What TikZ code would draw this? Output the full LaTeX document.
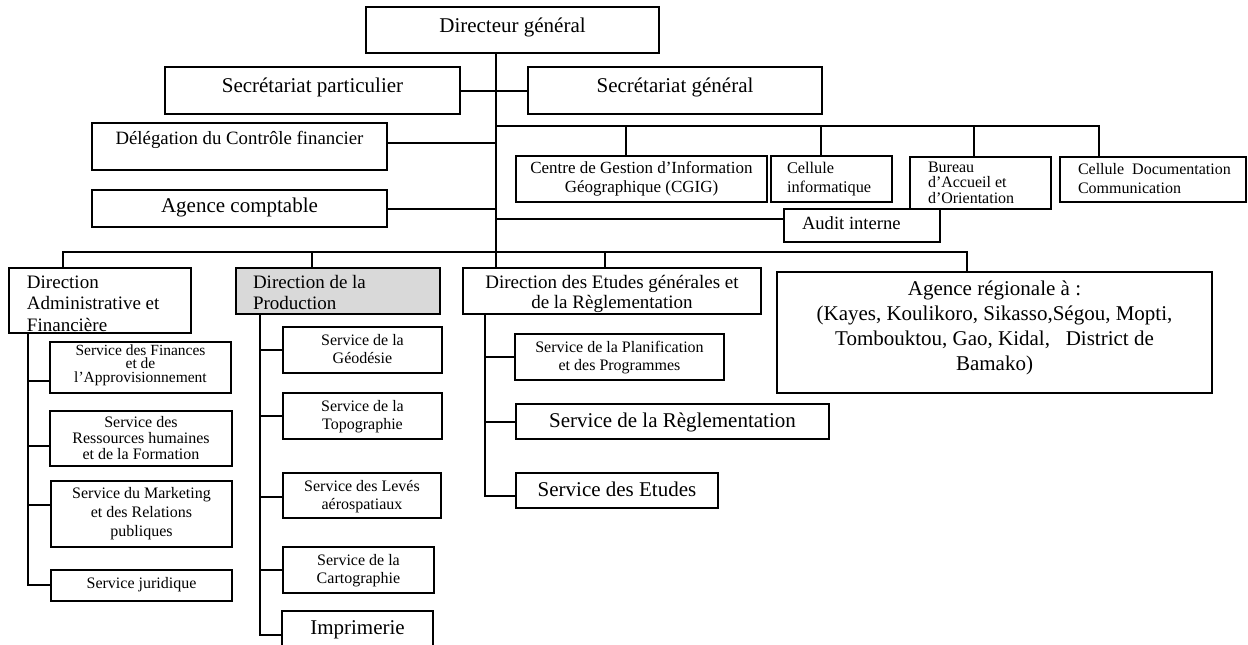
\documentclass[tikz,border=0pt]{standalone}
\usepackage{fontspec}
\setmainfont{Liberation Serif}
\newcommand\fs[2]{\fontsize{#1pt}{#2pt}\selectfont}
\newcommand\lind[1]{\raggedright\leftskip=#1pt\relax}
% name, opts, left, top, right, bottom, first baseline, format, text
\newcommand\ob[9]{\node[box,#2] (#1) at (#3,#4) {\parbox[c][\dimexpr#6pt-#4pt\relax][t]{\dimexpr#5pt-#3pt\relax}{\lineskiplimit=-100pt #8\rule{0pt}{\dimexpr#7pt-#4pt\relax}#9}};}
\begin{document}
\begin{tikzpicture}[x=1pt,y=-1pt,
  box/.style={draw,line width=2pt,inner sep=0pt,outer sep=0pt,anchor=north west,fill=white},
  conn/.style={line width=2pt}]
\useasboundingbox (0,0) rectangle (1248,645);
\fill[white] (0,0) rectangle (1248,645);
\clip (0,0) rectangle (1248,645);
% boxes
\ob{dg}{}{366}{7}{659}{53}{32}{\fs{21}{25}\centering}{Directeur général}
\ob{sp}{}{165}{67}{460}{114}{92}{\fs{21}{25}\centering}{Secrétariat particulier}
\ob{sg}{}{528}{67}{822}{114}{92}{\fs{21}{25}\centering}{Secrétariat général}
\ob{del}{}{92}{123}{387}{170}{144}{\fs{18.8}{22}\centering}{Délégation du Contrôle financier}
\ob{ac}{}{92}{190}{387}{227}{212}{\fs{21}{25}\centering}{Agence comptable}
\ob{cgig}{}{516}{156}{767}{202}{173}{\fs{17}{19}\centering}{Centre de Gestion d’Information\\Géographique (CGIG)}
\ob{cinf}{}{771}{156}{892}{202}{173}{\fs{16.3}{19}\lind{16}}{Cellule\\informatique}
\ob{bao}{}{910}{157}{1051}{209}{172}{\fs{16}{15.5}\lind{18}}{Bureau\\d’Accueil et\\d’Orientation}
\ob{cdoc}{}{1060}{157}{1246}{202}{174}{\fs{16}{19}\lind{18}}{Cellule\ \ Documentation\\Communication}
\ob{audit}{}{784}{209}{940}{242}{229}{\fs{18.6}{22}\lind{18}}{Audit interne}
\ob{daf}{}{9}{268}{191}{333}{288}{\fs{19}{21.5}\lind{18}}{Direction\\Administrative et\\Financière}
\ob{prod}{fill=black!15}{236}{268}{440}{314}{288}{\fs{19}{21}\lind{17}}{Direction de la\\Production}
\ob{degr}{}{463}{268}{761}{314}{288}{\fs{19}{20}\centering}{Direction des Etudes générales et\\de la Règlementation}
\ob{agr}{}{777}{272}{1212}{393}{295}{\fs{21}{25}\centering}{Agence régionale à :\\(Kayes, Koulikoro, Sikasso,Ségou, Mopti,\\Tombouktou, Gao, Kidal,\ \ \ District de\\Bamako)}
\ob{sfa}{}{50}{342}{231}{393}{355}{\fs{15.5}{13.8}\centering}{Service des Finances\\et de\\l’Approvisionnement}
\ob{srhf}{}{50}{411}{232}{466}{427}{\fs{16}{16}\centering}{Service des\\Ressources humaines\\et de la Formation}
\ob{smrp}{}{51}{481}{232}{547}{498}{\fs{16}{19}\centering}{Service du Marketing\\et des Relations\\publiques}
\ob{sj}{}{51}{570}{232}{601}{588}{\fs{16}{19}\centering}{Service juridique}
\ob{geo}{}{283}{327}{442}{373}{345}{\fs{16}{18.5}\centering}{Service de la\\Géodésie}
\ob{topo}{}{283}{393}{442}{439}{411}{\fs{16}{18.5}\centering}{Service de la\\Topographie}
\ob{lev}{}{283}{473}{441}{518}{491}{\fs{16}{18.5}\centering}{Service des Levés\\aérospatiaux}
\ob{carto}{}{283}{547}{434}{593}{565}{\fs{16}{18.5}\centering}{Service de la\\Cartographie}
\ob{impr}{}{282}{611}{433}{660}{634}{\fs{21}{25}\centering}{Imprimerie}
\ob{spp}{}{515}{334}{724}{380}{352}{\fs{16}{18}\centering}{Service de la Planification\\et des Programmes}
\ob{sr}{}{516}{404}{829}{439}{427}{\fs{21}{25}\centering}{Service de la Règlementation}
\ob{se}{}{516}{473}{718}{508}{496}{\fs{21}{25}\centering}{Service des Etudes}
% coordinates
\coordinate (m) at (496,0);
\coordinate (d1) at (626,126);
\coordinate (d2) at (821,126);
\coordinate (d3) at (974,126);
\coordinate (d4) at (1099,126);
\coordinate (e1) at (63,252);
\coordinate (e2) at (312,252);
\coordinate (e3) at (605,252);
\coordinate (e4) at (967,252);
\coordinate (v1) at (28,0);
\coordinate (v2) at (260,0);
\coordinate (v3) at (485,0);
% top connectors
\draw[conn] (dg.south -| m) -- (degr.north -| m);
\draw[conn] (sp.east) -- (sg.west);
\draw[conn] (del.east |- 0,143) -- (m |- 0,143);
\draw[conn] (ac.east |- 0,209) -- (m |- 0,209);
\draw[conn,line join=miter] (m |- d1) -- (d4) -- (d4 |- cdoc.north);
\draw[conn] (d1) -- (d1 |- cgig.north);
\draw[conn] (d2) -- (d2 |- cinf.north);
\draw[conn] (d3) -- (d3 |- bao.north);
\draw[conn] (m |- 0,219) -- (audit.west |- 0,219);
% directions
\draw[conn,line join=miter] (e1 |- daf.north) -- (e1) -- (e4) -- (e4 |- agr.north);
\draw[conn] (e2) -- (e2 |- prod.north);
\draw[conn] (e3) -- (e3 |- degr.north);
% DAF services
\draw[conn,line join=miter] (v1 |- daf.south) -- (v1 |- 0,585) -- (sj.west |- 0,585);
\draw[conn] (v1 |- 0,381) -- (sfa.west |- 0,381);
\draw[conn] (v1 |- 0,446) -- (srhf.west |- 0,446);
\draw[conn] (v1 |- 0,505) -- (smrp.west |- 0,505);
% Production services
\draw[conn,line join=miter] (v2 |- prod.south) -- (v2 |- 0,635) -- (impr.west |- 0,635);
\draw[conn] (v2 |- geo.west) -- (geo.west);
\draw[conn] (v2 |- topo.west) -- (topo.west);
\draw[conn] (v2 |- 0,497) -- (lev.west |- 0,497);
\draw[conn] (v2 |- carto.west) -- (carto.west);
% DEGR services
\draw[conn,line join=miter] (v3 |- degr.south) -- (v3 |- 0,496) -- (se.west |- 0,496);
\draw[conn] (v3 |- spp.west) -- (spp.west);
\draw[conn] (v3 |- sr.west) -- (sr.west);
\end{tikzpicture}
\end{document}
